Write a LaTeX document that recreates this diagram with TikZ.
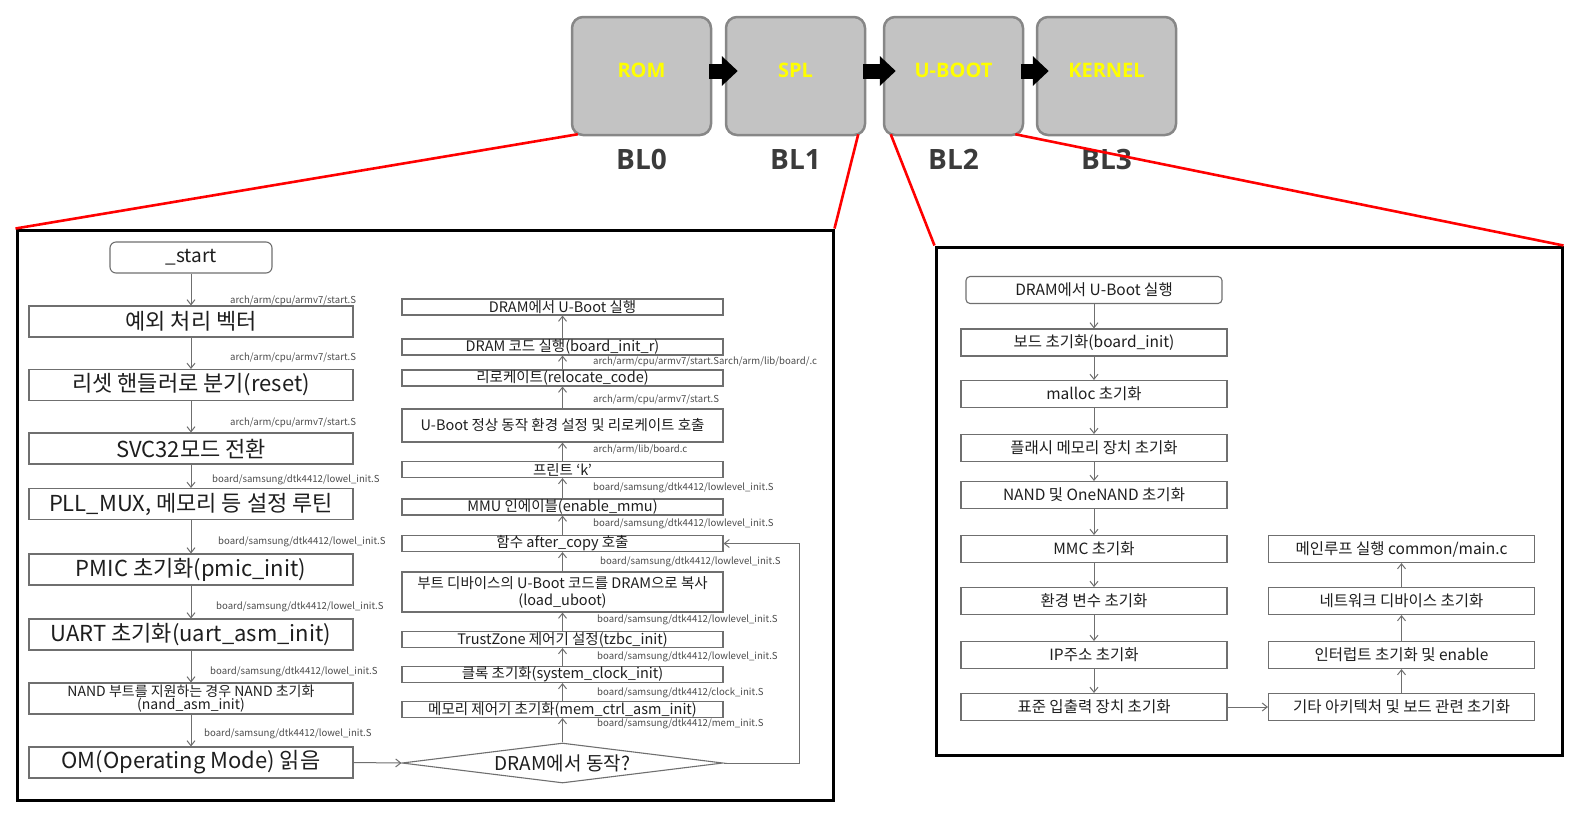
\documentclass[tikz,border=0pt]{standalone}
\usepackage{fontspec}
\setmainfont{Noto Sans CJK KR}
\newfontfamily\stagefamily{Open Sans}
\usetikzlibrary{positioning,arrows.meta,shapes.geometric}
\definecolor{stagefill}{HTML}{C3C3C3}
\definecolor{stageline}{HTML}{878787}
\definecolor{stagetext}{HTML}{FFFF00}
\definecolor{bltext}{HTML}{3B3B3B}
\definecolor{flowline}{HTML}{6F6F6F}
\definecolor{flowtext}{HTML}{1E1E1E}
\definecolor{pathtext}{HTML}{4A4A4A}
\newcommand{\fsz}[2]{\fontsize{#1}{#2}\selectfont}
\tikzset{
  stage/.style={draw=stageline, fill=stagefill, line width=2.5pt, rounded corners=11pt,
    minimum width=139pt, minimum height=118pt, text depth=12pt, text=stagetext,
    font=\stagefamily\bfseries\fsz{20}{24}},
  stagearrow/.style={line width=15pt, -{Triangle[length=16pt,width=29pt]}},
  bltag/.style={text=bltext, inner sep=0pt, font=\stagefamily\bfseries\fsz{28}{32}},
  zoomline/.style={red, line width=2.6pt},
  panel/.style={draw, line width=3pt, inner sep=0pt},
  leftbox/.style={draw=flowline, line width=1.1pt, minimum width=324pt, minimum height=31pt,
    inner sep=1pt, text=flowtext, font=\fsz{22}{24}, align=center},
  midbox/.style={draw=flowline, line width=1.1pt, minimum width=321pt, minimum height=16pt,
    inner sep=0pt, text=flowtext, font=\fsz{14.5}{17}, align=center},
  rightbox/.style={draw=flowline, line width=1.1pt, minimum width=266pt, minimum height=27pt,
    inner sep=1pt, text=flowtext, font=\fsz{15.5}{17}},
  pathtag/.style={anchor=west, inner sep=0pt, text=pathtext, font=\fsz{9.6}{11}},
  flowarrow/.style={draw=flowline, line width=1pt, -{Straight Barb[length=5pt,width=8pt]}},
}
\begin{document}
\begin{tikzpicture}[x=1pt,y=-1pt]
  \useasboundingbox (0,0) rectangle (1582,815);
  % boot stages
  \node[stage] (rom) at (641.5,76) {ROM};
  \node[stage] (spl) at (795.5,76) {SPL};
  \node[stage] (uboot) at (953.5,76) {U-BOOT};
  \node[stage] (kernel) at (1106.5,76) {KERNEL};
  \node[bltag, below=13pt of rom] (bl0) {BL0};
  \node[bltag, below=13pt of spl] (bl1) {BL1};
  \node[bltag, below=13pt of uboot] (bl2) {BL2};
  \node[bltag, below=13pt of kernel] (bl3) {BL3};
  \foreach \a/\b in {rom/spl,spl/uboot,uboot/kernel}
    \draw[stagearrow] ([shift={(-3pt,5pt)}]\a.east) -- ([shift={(13pt,5pt)}]\b.west);

  \node[panel, minimum width=816pt, minimum height=570pt] (leftpanel) at (425,515) {};
  \node[panel, minimum width=626pt, minimum height=508pt] (rightpanel) at (1249,501) {};
  \draw[zoomline] ([shift={(7pt,2pt)}]rom.south west) -- (leftpanel.north west);
  \draw[zoomline] ([shift={(-8pt,2pt)}]spl.south east) -- (leftpanel.north east);
  \draw[zoomline] ([shift={(8pt,2pt)}]uboot.south west) -- (rightpanel.north west);
  \draw[zoomline] ([shift={(-9pt,2pt)}]uboot.south east) -- (rightpanel.north east);

  % BL1 flow
  \node[leftbox, minimum width=162pt, rounded corners=6pt, font=\fsz{19}{21}] (start) at (191,257.5) {\_start};
  \node[leftbox] (s1) at (191,321.5) {예외 처리 벡터};
  \node[leftbox] (s2) at (191,385) {리셋 핸들러로 분기(reset)};
  \node[leftbox] (s3) at (191,448.5) {SVC32모드 전환};
  \node[leftbox] (s4) at (191,504) {PLL\_MUX, 메모리 등 설정 루틴};
  \node[leftbox] (s5) at (191,569.5) {PMIC 초기화(pmic\_init)};
  \node[leftbox] (s6) at (191,634.5) {UART 초기화(uart\_asm\_init)};
  \node[leftbox, font=\fsz{14}{13}] (s7) at (191,698.5) {NAND 부트를 지원하는 경우 NAND 초기화\\(nand\_asm\_init)};
  \node[leftbox] (s8) at (191,762.5) {OM(Operating Mode) 읽음};
  \foreach \a/\b in {start/s1,s1/s2,s2/s3,s3/s4,s4/s5,s5/s6,s6/s7,s7/s8}
    \draw[flowarrow] (\a) -- (\b);
  \node[pathtag] (lp1) at (230,301) {arch/arm/cpu/armv7/start.S};
  \node[pathtag] (lp2) at (230,358) {arch/arm/cpu/armv7/start.S};
  \node[pathtag] (lp3) at (230,423) {arch/arm/cpu/armv7/start.S};
  \node[pathtag] (lp4) at (212,480) {board/samsung/dtk4412/lowel\_init.S};
  \node[pathtag] (lp5) at (218,542) {board/samsung/dtk4412/lowel\_init.S};
  \node[pathtag] (lp6) at (216,607) {board/samsung/dtk4412/lowel\_init.S};
  \node[pathtag] (lp7) at (210,672) {board/samsung/dtk4412/lowel\_init.S};
  \node[pathtag] (lp8) at (204,734) {board/samsung/dtk4412/lowel\_init.S};

  \node[midbox] (m1) at (562.5,307) {DRAM에서 U-Boot 실행};
  \node[midbox] (m2) at (562.5,347) {DRAM 코드 실행(board\_init\_r)};
  \node[midbox] (m3) at (562.5,378) {리로케이트(relocate\_code)};
  \node[midbox, minimum height=33pt] (m4) at (562.5,425.5) {U-Boot 정상 동작 환경 설정 및 리로케이트 호출};
  \node[midbox] (m5) at (562.5,469.5) {프린트 ‘k’};
  \node[midbox] (m6) at (562.5,507) {MMU 인에이블(enable\_mmu)};
  \node[midbox] (m7) at (562.5,543.5) {함수 after\_copy 호출};
  \node[midbox, minimum height=40pt] (m8) at (562.5,592) {부트 디바이스의 U-Boot 코드를 DRAM으로 복사\\(load\_uboot)};
  \node[midbox] (m9) at (562.5,639.5) {TrustZone 제어기 설정(tzbc\_init)};
  \node[midbox] (m10) at (562.5,674.5) {클록 초기화(system\_clock\_init)};
  \node[midbox] (m11) at (562.5,709.5) {메모리 제어기 초기화(mem\_ctrl\_asm\_init)};
  \node[draw=flowline, line width=1.1pt, diamond, aspect=8, minimum width=321pt, minimum height=40pt,
    inner sep=0pt, text=flowtext, font=\fsz{19}{21}] (dm) at (562.5,763) {DRAM에서 동작?};
  \foreach \a/\b in {dm/m11,m11/m10,m10/m9,m9/m8,m8/m7,m7/m6,m6/m5,m5/m4,m4/m3,m3/m2,m2/m1}
    \draw[flowarrow] (\a) -- (\b);
  \draw[flowarrow] (s8.east) -- (dm.west);
  \draw[flowarrow] (dm.east) -- ++(76,0) |- (m7.east);
  \node[pathtag] (mp1) at (593,362) {arch/arm/cpu/armv7/start.Sarch/arm/lib/board/.c};
  \node[pathtag] (mp2) at (593,400) {arch/arm/cpu/armv7/start.S};
  \node[pathtag] (mp3) at (593,450) {arch/arm/lib/board.c};
  \node[pathtag] (mp4) at (593,488) {board/samsung/dtk4412/lowlevel\_init.S};
  \node[pathtag] (mp5) at (593,524) {board/samsung/dtk4412/lowlevel\_init.S};
  \node[pathtag] (mp6) at (600,562) {board/samsung/dtk4412/lowlevel\_init.S};
  \node[pathtag] (mp7) at (597,620) {board/samsung/dtk4412/lowlevel\_init.S};
  \node[pathtag] (mp8) at (597,657) {board/samsung/dtk4412/lowlevel\_init.S};
  \node[pathtag] (mp9) at (597,693) {board/samsung/dtk4412/clock\_init.S};
  \node[pathtag] (mp10) at (597,724) {board/samsung/dtk4412/mem\_init.S};

  % BL2 flow
  \node[rightbox, minimum width=256pt, rounded corners=4pt] (r0) at (1094,290) {DRAM에서 U-Boot 실행};
  \node[rightbox] (r1) at (1094,342.5) {보드 초기화(board\_init)};
  \node[rightbox] (r2) at (1094,394) {malloc 초기화};
  \node[rightbox] (r3) at (1094,448) {플래시 메모리 장치 초기화};
  \node[rightbox] (r4) at (1094,495) {NAND 및 OneNAND 초기화};
  \node[rightbox] (r5) at (1094,549) {MMC 초기화};
  \node[rightbox] (r6) at (1094,601) {환경 변수 초기화};
  \node[rightbox] (r7) at (1094,655) {IP주소 초기화};
  \node[rightbox] (r8) at (1094,707) {표준 입출력 장치 초기화};
  \node[rightbox] (c1) at (1401.5,549) {메인루프 실행 common/main.c};
  \node[rightbox] (c2) at (1401.5,601) {네트워크 디바이스 초기화};
  \node[rightbox] (c3) at (1401.5,655) {인터럽트 초기화 및 enable};
  \node[rightbox] (c4) at (1401.5,707) {기타 아키텍처 및 보드 관련 초기화};
  \foreach \a/\b in {r0/r1,r1/r2,r2/r3,r3/r4,r4/r5,r5/r6,r6/r7,r7/r8,r8/c4,c4/c3,c3/c2,c2/c1}
    \draw[flowarrow] (\a) -- (\b);
\end{tikzpicture}
\end{document}
